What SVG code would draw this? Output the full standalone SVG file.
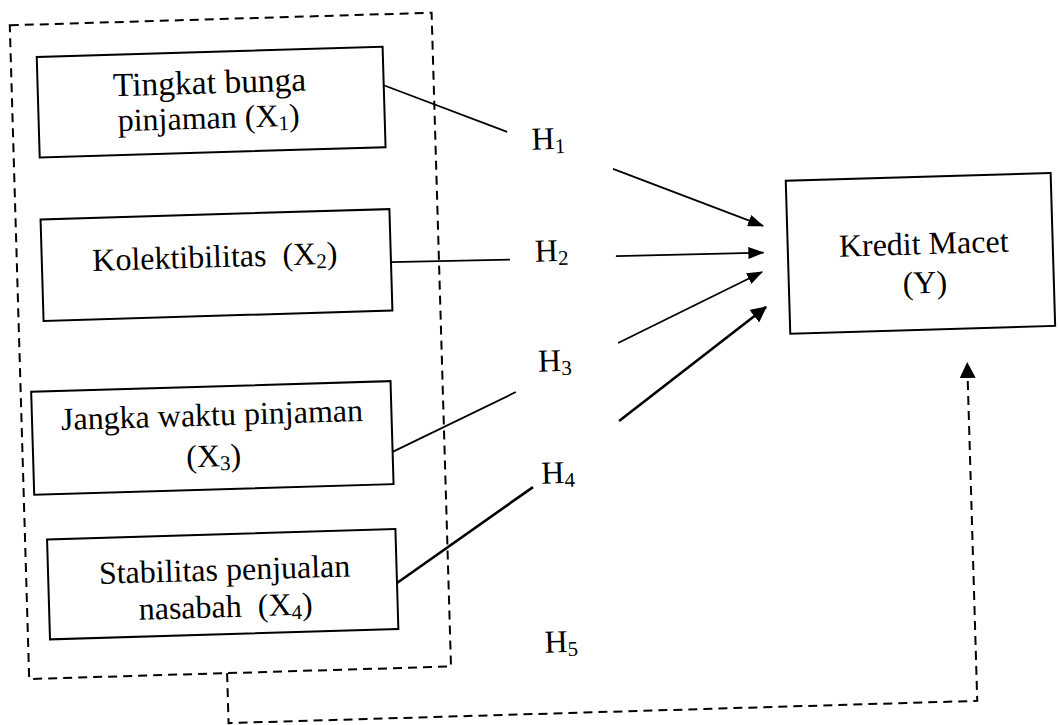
<svg xmlns="http://www.w3.org/2000/svg" width="1059" height="725" viewBox="0 0 1059 725">
  <style>
    .box { fill: #ffffff; stroke: #000000; stroke-width: 2; }
    .frame { fill: none; stroke: #000000; stroke-width: 2; stroke-dasharray: 9 6; }
    .lbl { font-family: "Liberation Serif", "Times New Roman", serif; font-size: 32px; fill: #000000; }
    .mid { text-anchor: middle; }
    .sub { font-size: 21px; }
    .ln { fill: none; stroke: #000000; stroke-width: 1.8; }
    .thick { stroke-width: 2.6; }
    .dash { fill: none; stroke: #000000; stroke-width: 2; stroke-dasharray: 9 6; }
  </style>
  <defs>
    <marker id="arrow" viewBox="0 0 16 12" refX="15" refY="6" markerWidth="16" markerHeight="12" markerUnits="userSpaceOnUse" orient="auto">
      <path d="M0,0 L16,6 L0,12 Z" fill="#000000"/>
    </marker>
    <marker id="arrowBig" viewBox="0 0 16 16" refX="15" refY="8" markerWidth="16" markerHeight="16" markerUnits="userSpaceOnUse" orient="auto">
      <path d="M0,0 L16,8 L0,16 Z" fill="#000000"/>
    </marker>
  </defs>
  <rect width="1059" height="725" fill="#ffffff"/>
  <g transform="rotate(-1.7 530 362)">
    <g id="group-x">
      <rect class="frame" x="20" y="10" width="422" height="654"/>
    </g>
    <g id="node-x1">
      <rect class="box" x="46" y="42.5" width="346" height="100.5"/>
      <text class="lbl mid" x="218" y="84" style="font-size:33.5px">Tingkat bunga</text>
      <text class="lbl mid" x="216" y="119">pinjaman (X<tspan class="sub" dy="4">1</tspan><tspan dy="-4">)</tspan></text>
    </g>
    <g id="node-x2">
      <rect class="box" x="45" y="205" width="349" height="101.5"/>
      <text class="lbl mid" x="218" y="258" xml:space="preserve">Kolektibilitas  (X<tspan class="sub" dy="4">2</tspan><tspan dy="-4">)</tspan></text>
    </g>
    <g id="node-x3">
      <rect class="box" x="30.5" y="377" width="359.5" height="103"/>
      <text class="lbl mid" x="210.5" y="416">Jangka waktu pinjaman</text>
      <text class="lbl mid" x="211" y="457">(X<tspan class="sub" dy="4">3</tspan><tspan dy="-4">)</tspan></text>
    </g>
    <g id="node-x4">
      <rect class="box" x="42" y="525" width="348.5" height="100"/>
      <text class="lbl mid" x="218.5" y="571">Stabilitas penjualan</text>
      <text class="lbl mid" x="218.5" y="608" xml:space="preserve">nasabah  (X<tspan class="sub" dy="4">4</tspan><tspan dy="-4">)</tspan></text>
    </g>
    <g id="node-y">
      <rect class="box" x="791" y="188.5" width="265" height="153"/>
      <text class="lbl mid" x="927" y="266">Kredit Macet</text>
      <text class="lbl mid" x="927" y="305">(Y)</text>
    </g>
    <g id="labels">
      <text class="lbl" x="538" y="150">H<tspan class="sub" dy="4">1</tspan></text>
      <text class="lbl" x="538" y="262">H<tspan class="sub" dy="4">2</tspan></text>
      <text class="lbl" x="538" y="372">H<tspan class="sub" dy="4">3</tspan></text>
      <text class="lbl" x="538" y="484">H<tspan class="sub" dy="4">4</tspan></text>
      <text class="lbl" x="536" y="653">H<tspan class="sub" dy="4">5</tspan></text>
    </g>
    <g id="connectors">
      <line class="ln" x1="392" y1="81" x2="514" y2="131.3"/>
      <line class="ln" x1="618.7" y1="171.5" x2="767" y2="232.9" marker-end="url(#arrow)"/>
      <line class="ln" x1="394" y1="258" x2="513" y2="259"/>
      <line class="ln" x1="619" y1="258.8" x2="766.5" y2="259.6" marker-end="url(#arrow)"/>
      <line class="ln" x1="390" y1="447.7" x2="515" y2="391.6"/>
      <line class="ln thick" x1="617.3" y1="423.6" x2="767.6" y2="314" marker-end="url(#arrowBig)"/>
      <line class="ln" x1="618.6" y1="345.6" x2="764.7" y2="278.9" marker-end="url(#arrow)"/>
      <line class="ln thick" x1="390.5" y1="579" x2="529.3" y2="487.1"/>
      <path class="dash" d="M218,664 L218,714 L967,714 L967,376" marker-end="url(#arrowBig)"/>
    </g>
  </g>
</svg>
